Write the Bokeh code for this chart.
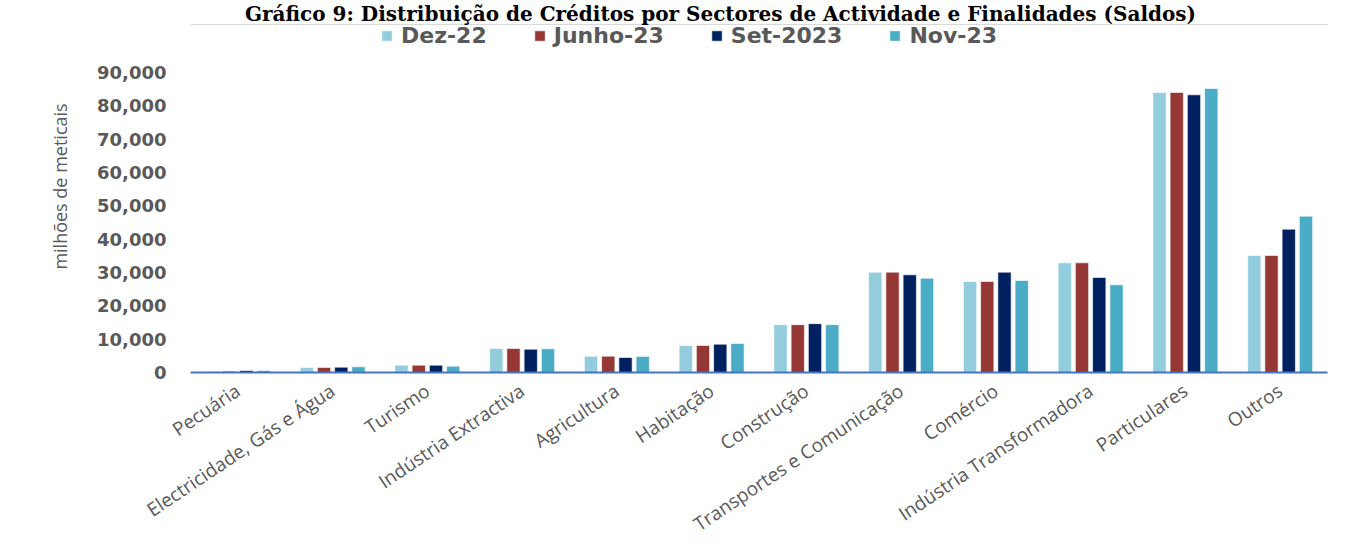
from bokeh.plotting import figure
from bokeh.models import (ColumnDataSource, FactorRange, Range1d, NumeralTickFormatter,
                          Legend, LegendItem, Label, Span, FixedTicker)
from bokeh.transform import dodge
from bokeh.embed import file_html
from bokeh.resources import INLINE

title_text = "Gráfico 9: Distribuição de Créditos por Sectores de Actividade e Finalidades (Saldos)"
y_label = "milhões de meticais"

categories = ["Pecuária", "Electricidade, Gás e Água", "Turismo", "Indústria Extractiva",
              "Agricultura", "Habitação", "Construção", "Transportes e Comunicação",
              "Comércio", "Indústria Transformadora", "Particulares", "Outros"]

series_names = ["Dez-22", "Junho-23", "Set-2023", "Nov-23"]

dez22 = [300, 1500, 2200, 7200, 4900, 8100, 14350, 30100, 27300, 32900, 84000, 35100]
jun23 = [400, 1500, 2200, 7200, 4900, 8100, 14350, 30100, 27300, 32900, 84000, 35100]
set23 = [600, 1600, 2200, 7000, 4500, 8500, 14650, 29300, 30100, 28500, 83300, 43000]
nov23 = [600, 1700, 1900, 7100, 4800, 8700, 14350, 28300, 27600, 26300, 85200, 46900]

y_ticks = [0, 10000, 20000, 30000, 40000, 50000, 60000, 70000, 80000, 90000]

colors = ["#93CDDD", "#953735", "#002060", "#4BACC6"]

source = ColumnDataSource(dict(cat=categories, s0=dez22, s1=jun23, s2=set23, s3=nov23))

# frame spans full canvas height above the axis; the plot area (0..90,000) occupies its lower 300px
frame_top, axis_y, top_tick_y = 0, 372, 72
y_end = y_ticks[-1] * (axis_y - frame_top) / (axis_y - top_tick_y)

p = figure(x_range=FactorRange(factors=categories), y_range=Range1d(0, y_end),
           width=1346, height=556, output_backend="svg", toolbar_location=None,
           min_border_left=190, min_border_right=19, min_border_top=frame_top,
           min_border_bottom=556 - axis_y)

offsets = [-0.273, -0.091, 0.091, 0.273]
items = []
for i, (col, name) in enumerate(zip(colors, series_names)):
    r = p.vbar(x=dodge("cat", offsets[i], range=p.x_range), top="s%d" % i, width=0.14,
               source=source, fill_color=col, line_color="white", line_width=1, line_alpha=0.6)
    items.append(LegendItem(label=name, renderers=[r]))

legend = Legend(items=items, location=(190, 324), orientation="horizontal",
                padding=0, margin=0, border_line_color=None, background_fill_alpha=0,
                glyph_width=13, glyph_height=13, label_standoff=8, spacing=46,
                label_text_font="DejaVu Sans", label_text_font_style="bold",
                label_text_font_size="22px", label_text_color="#595959", label_height=22)
p.add_layout(legend, "center")

# top edge of the chart box
p.add_layout(Span(location=axis_y - 24, location_units="screen", dimension="width",
                  line_color="#d9d9d9", line_width=1))

title = Label(x=530, y=axis_y - 13, x_units="screen", y_units="screen", text=title_text,
              text_align="center", text_baseline="alphabetic", text_font="DejaVu Serif",
              text_font_style="bold", text_font_size="20px", text_color="black")
p.add_layout(title)

p.xgrid.grid_line_color = None
p.ygrid.grid_line_color = None
p.outline_line_color = None

xa = p.xaxis[0]
xa.axis_line_color = "#4472C4"
xa.axis_line_width = 2
xa.major_tick_line_color = None
xa.minor_tick_line_color = None
xa.major_label_orientation = 0.59
xa.major_label_standoff = 10
xa.major_label_text_font = "Open Sans"
xa.major_label_text_font_size = "19px"
xa.major_label_text_color = "#595959"

ya = p.yaxis[0]
ya.ticker = FixedTicker(ticks=y_ticks)
ya.axis_line_color = None
ya.major_tick_line_color = None
ya.minor_tick_line_color = None
ya.major_tick_out = 0
ya.major_label_standoff = 24
ya.formatter = NumeralTickFormatter(format="0,0")
ya.major_label_text_font = "DejaVu Sans"
ya.major_label_text_font_style = "bold"
ya.major_label_text_font_size = "18px"
ya.major_label_text_color = "#595959"
ya.axis_label = y_label
ya.axis_label_text_font = "Open Sans"
ya.axis_label_text_font_style = "normal"
ya.axis_label_text_font_size = "18px"
ya.axis_label_text_color = "#595959"
ya.axis_label_standoff = 22

open("out.html", "w").write(file_html(p, INLINE))
